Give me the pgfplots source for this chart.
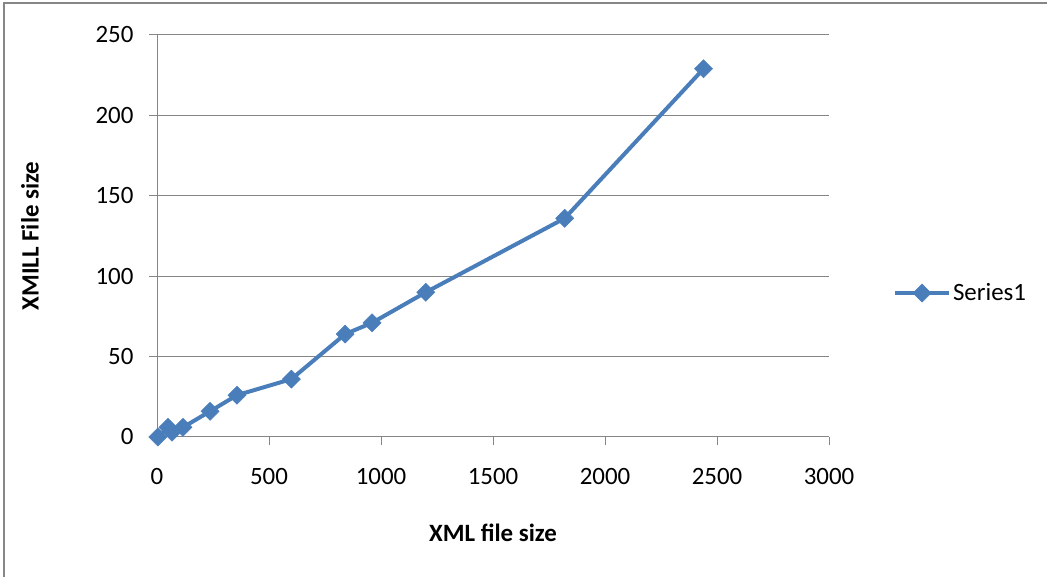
\documentclass[border=0pt]{standalone}
\usepackage{pgfplots}
\pgfplotsset{compat=1.18}
\usepackage{fontspec}
\setmainfont{Carlito}
\definecolor{serblue}{RGB}{74,126,187}
\definecolor{axgray}{RGB}{134,134,134}
\begin{document}
\begin{tikzpicture}[x=1bp,y=1bp]
\useasboundingbox (0,0) rectangle (1047,577);
% chart frame (top and left edges)
\draw[axgray,line width=1.5bp] (4,0) -- (4,574) -- (1047,574);
\begin{axis}[
  at={(157bp,140bp)}, anchor=south west,
  scale only axis, width=672bp, height=402bp,
  xmin=0, xmax=3000, ymin=0, ymax=250,
  xtick distance=500, ytick distance=50,
  axis x line*=bottom, axis y line*=left,
  axis line style={axgray,line width=1bp,-},
  ymajorgrids, grid style={axgray,line width=1bp},
  tick align=outside, major tick length=8bp,
  tick style={axgray,line width=1bp},
  xtick pos=bottom, ytick pos=left,
  font=\fontsize{25}{30}\selectfont,
  /pgf/number format/assume math mode=true,
  /pgf/number format/1000 sep={},
  yticklabel style={xshift=-12bp},
  xticklabel style={yshift=-20bp},
  xlabel={\bfseries XML file size},
  ylabel={\bfseries XMILL File size},
  xlabel style={at={(axis description cs:0.5,-0.239)},anchor=center},
  ylabel style={at={(axis description cs:-0.189,0.5)},anchor=center},
  legend style={draw=none,fill=none,at={(1.095,0.358)},anchor=west,inner sep=0pt,
    font=\fontsize{25}{30}\selectfont},
  legend image code/.code={\draw[mark repeat=2,mark phase=2] plot coordinates {(0bp,0bp) (27bp,0bp) (54bp,0bp)};},
]
\addplot[serblue, line width=4bp, mark=square*, mark size=6.4bp,
  mark options={fill=serblue,line width=0.5bp,rotate=45}] coordinates {
  (4,0) (49,6) (67,3) (116,6) (237,16) (357,26) (600,36)
  (840,64) (960,71) (1200,90) (1820,136) (2440,229)
};
\addlegendentry{Series1}
\end{axis}
\end{tikzpicture}
\end{document}
